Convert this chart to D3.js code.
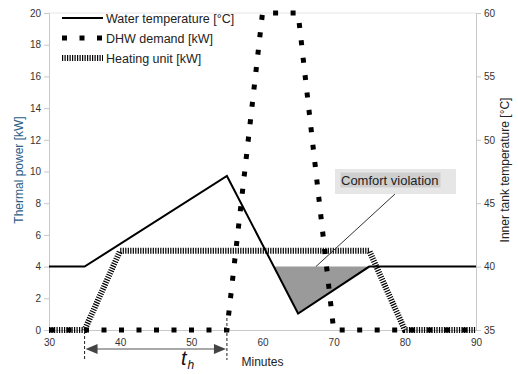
<!DOCTYPE html>
<html><head><meta charset="utf-8">
<script src="https://cdn.jsdelivr.net/npm/d3@7"></script>
<style>body{margin:0;background:#fff}svg{display:block;font-family:"Liberation Sans",Arial,sans-serif}</style>
</head><body>
<svg id="c" width="518" height="374"></svg>
<script>
const xTicks = [30,40,50,60,70,80,90];
const leftTicks = [0,2,4,6,8,10,12,14,16,18,20];
const rightTicks = [35,40,45,50,55,60];
const waterMin = [30,35,55,65,75,90];
const waterTemp = [40,40,47.15,36.3,40,40];
const dhwMin = [30,55,60,65,70,90];
const dhwPower = [0,0,20,20,0,0];
const heatMin = [30,35,40,75,80,90];
const heatPower = [0,0,5,5,0,0];
const violationMin = [61.6,65,75];
const violationTemp = [40,36.3,40];
const comfortLimit = 40;
const thStart = 35, thEnd = 55;

const svg = d3.select("#c");
const x = d3.scaleLinear().domain([30,90]).range([49,476]);
const yL = d3.scaleLinear().domain([0,20]).range([330,13]);
const yR = d3.scaleLinear().domain([35,60]).range([330,13]);

// frame
svg.append("line").attr("x1",49).attr("x2",476).attr("y1",13).attr("y2",13).attr("stroke","#e6e6e6");
const axL = svg.append("g").attr("transform","translate(49,0)")
  .call(d3.axisLeft(yL).tickValues(leftTicks).tickSize(5).tickPadding(3).tickFormat(d3.format("d")));
const axR = svg.append("g").attr("transform","translate(476,0)")
  .call(d3.axisRight(yR).tickValues(rightTicks).tickSize(5).tickPadding(3).tickFormat(d3.format("d")));
const axB = svg.append("g").attr("transform","translate(0,330)")
  .call(d3.axisBottom(x).tickValues(xTicks).tickSize(0).tickPadding(9).tickFormat(d3.format("d")));
[axL,axR,axB].forEach(a=>{
  a.select(".domain").attr("stroke","#c8c8c8");
  a.selectAll(".tick line").attr("stroke","#c8c8c8");
  a.selectAll("text").attr("fill","#333").style("font-size","10px").style("font-family","Liberation Sans, Arial, sans-serif");
});

// violation area
const vPts = violationMin.map((m,i)=>[x(m),yR(violationTemp[i])]);
svg.append("path").attr("d",d3.line()(vPts)+"Z").attr("fill","#9a9a9a");

const line = d3.line();
// heating unit
svg.append("path").attr("d",line(heatMin.map((m,i)=>[x(m),yL(heatPower[i])])))
  .attr("fill","none").attr("stroke","#000").attr("stroke-width",6).attr("stroke-dasharray","1.2,1.3");
// DHW demand
svg.append("path").attr("d",line(dhwMin.map((m,i)=>[x(m),yL(dhwPower[i])])))
  .attr("fill","none").attr("stroke","#000").attr("stroke-width",5).attr("stroke-dasharray","5,12.5");
// water temperature
svg.append("path").attr("d",line(waterMin.map((m,i)=>[x(m),yR(waterTemp[i])])))
  .attr("fill","none").attr("stroke","#000").attr("stroke-width",2).attr("stroke-linejoin","miter");

// legend
const leg = [["Water temperature [°C]",{w:2,d:null}],["DHW demand [kW]",{w:5,d:"5,12.5"}],["Heating unit [kW]",{w:6,d:"1.2,1.3"}]];
leg.forEach((l,i)=>{
  const yy = 18 + i*20;
  svg.append("line").attr("x1",62).attr("x2",103).attr("y1",yy).attr("y2",yy)
    .attr("stroke","#000").attr("stroke-width",l[1].w).attr("stroke-dasharray",l[1].d);
  svg.append("text").attr("x",106).attr("y",yy+4.5).text(l[0]).attr("fill","#222").style("font-size","12.5px");
});

// axis titles
svg.append("text").attr("transform","translate(23,170) rotate(-90)").attr("text-anchor","middle")
  .text("Thermal power [kW]").attr("fill","#2b5d86").style("font-size","12px");
svg.append("text").attr("transform","translate(509,170) rotate(-90)").attr("text-anchor","middle")
  .text("Inner tank temperature [°C]").attr("fill","#222").style("font-size","12px");
svg.append("text").attr("x",x(60)).attr("y",366).attr("text-anchor","middle").text("Minutes").attr("fill","#222").style("font-size","12px");

// comfort violation callout
svg.append("line").attr("x1",395).attr("y1",194).attr("x2",x(67.5)).attr("y2",yR(comfortLimit)).attr("stroke","#333").attr("stroke-width",1);
svg.append("rect").attr("x",335).attr("y",169).attr("width",121).attr("height",25).attr("fill","#e6e6e6");
svg.append("rect").attr("x",340.5).attr("y",172.5).attr("width",100).attr("height",15).attr("fill","#cfcfcf");
svg.append("text").attr("x",341).attr("y",185).text("Comfort violation").attr("fill","#222").style("font-size","13px");

// t_h marker
[thStart,thEnd].forEach(m=>{
  svg.append("line").attr("x1",x(m)).attr("x2",x(m)).attr("y1",m===thStart?331:318).attr("y2",360)
    .attr("stroke","#222").attr("stroke-width",1).attr("stroke-dasharray","3,2");
});
const ay = 349;
svg.append("line").attr("x1",x(thStart)+10).attr("x2",x(thEnd)-10).attr("y1",ay).attr("y2",ay).attr("stroke","#555").attr("stroke-width",1.2);
svg.append("path").attr("d",`M${x(thStart)+1},${ay}L${x(thStart)+13},${ay-5}L${x(thStart)+13},${ay+5}Z`).attr("fill","#444");
svg.append("path").attr("d",`M${x(thEnd)-1},${ay}L${x(thEnd)-13},${ay-5}L${x(thEnd)-13},${ay+5}Z`).attr("fill","#444");
const th = svg.append("text").attr("x",181).attr("y",365).attr("fill","#111");
th.append("tspan").text("t").style("font-size","20px").style("font-style","italic");
th.append("tspan").text("h").attr("dy",4).attr("dx",1).style("font-size","12px").style("font-style","italic");
</script>
</body></html>
